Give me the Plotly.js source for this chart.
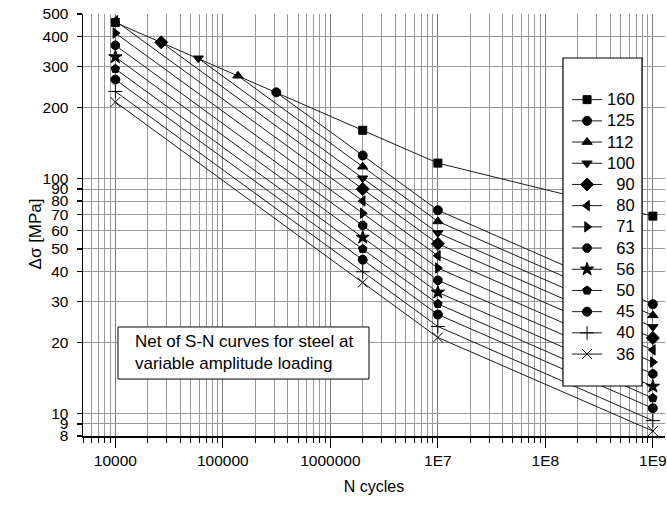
<!DOCTYPE html>
<html>
<head>
<meta charset="utf-8">
<script src="https://cdn.plot.ly/plotly-3.0.1.min.js"></script>
<style>html,body{margin:0;padding:0;background:#fff;}#chart{width:667px;height:507px;}</style>
</head>
<body>
<div id="chart"></div>
<script>
// Detail categories (Δσ_C at 2·10^6 cycles)
const detailCategories = ['160','125','112','100','90','80','71','63','56','50','45','40','36'];
// First point of each curve (cycles, stress range in MPa)
const startCycles = [1e4, 3.14e5, 1.38e5, 5.9e4, 2.67e4, 1e4, 1e4, 1e4, 1e4, 1e4, 1e4, 1e4, 1e4];
const startStress = [460, 232, 273, 324, 379, 468, 415, 368, 328, 292, 263, 234, 211];
// Common later points
const laterCycles = [2e6, 1e7, 1e9];
const stressAt2e6 = [160, 125, 112, 100, 90, 80, 71, 63, 56, 50, 45, 40, 36];
const stressAt1e7 = [116, 73.1, 65.5, 58.5, 52.6, 46.8, 41.5, 36.8, 32.7, 29.2, 26.3, 23.4, 21.0];
const stressAt1e9 = [69, 29.1, 26.1, 23.3, 20.9, 18.6, 16.5, 14.7, 13.0, 11.6, 10.5, 9.3, 8.4];

const xTickVals = [1e4, 1e5, 1e6, 1e7, 1e8, 1e9];
const xTickText = ['10000', '100000', '1000000', '1E7', '1E8', '1E9'];
const yTickVals = [8, 9, 10, 20, 30, 40, 50, 60, 70, 80, 90, 100, 200, 300, 400, 500];
const yTickText = ['8', '9', '10', '20', '30', '40', '50', '60', '70', '80', '90', '100', '200', '300', '400', '500'];
const xTitle = 'N cycles';
const yTitle = 'Δσ [MPa]';
const noteText = 'Net of S-N curves for steel at<br>variable amplitude loading';

// styles
const symbols = ['square','circle','triangle-up','triangle-down','diamond','triangle-left','triangle-right','octagon','star','pentagon','circle','cross-thin-open','x-thin-open'];
const sizes = [8, 9, 9, 9, 10, 9, 9, 9, 10, 9, 9, 10, 10];

// minor grid values
const minorVals = [];
for (let e = 3; e <= 9; e++) {
  for (let m = 1; m <= 9; m++) {
    const v = m * Math.pow(10, e);
    if (v >= 5000 && v <= 1.3e9 && xTickVals.indexOf(v) < 0) minorVals.push(v);
  }
}
const darkGridX = [1e4, 2e5, 1e6, 5e6, 4e7, 8e8];

const traces = detailCategories.map((c, i) => {
  const pad = c.length < 3 ? '\u2007' : '';
  return {
    type: 'scatter',
    mode: 'lines+markers',
    name: '<span style="font-size:16.5px">' + pad + c + '</span>',
    x: [startCycles[i]].concat(laterCycles),
    y: [startStress[i], stressAt2e6[i], stressAt1e7[i], stressAt1e9[i]],
    line: {color: '#1a1a1a', width: 1},
    marker: {symbol: symbols[i], size: sizes[i], color: '#000', line: {color: '#000', width: 1}},
    cliponaxis: false
  };
});

const shapes = darkGridX.map(v => ({
  type: 'line', xref: 'x', yref: 'paper', x0: Math.log10(v), x1: Math.log10(v), y0: 0, y1: 1,
  line: {color: '#333', width: 1.4}, layer: 'below'
}));
// legend frame
shapes.push({
  type: 'rect', xref: 'paper', yref: 'paper', x0: 0.8247, x1: 0.9605, y0: 0.1185, y1: 0.8957,
  fillcolor: '#fff', line: {color: '#000', width: 1.2}, layer: 'above'
});
// note frame
shapes.push({
  type: 'rect', xref: 'paper', yref: 'paper', x0: 0.0601, x1: 0.4914, y0: 0.135, y1: 0.2583,
  fillcolor: '#fff', line: {color: '#000', width: 1}, layer: 'above'
});

const layout = {
  width: 667, height: 507,
  margin: {l: 83, r: 2, t: 14, b: 71},
  paper_bgcolor: '#fff', plot_bgcolor: '#fff',
  font: {family: 'Liberation Sans, Arial, sans-serif', size: 14, color: '#000'},
  showlegend: true,
  legend: {
    x: 0.8317, y: 0.834, xanchor: 'left', yanchor: 'top',
    bgcolor: 'rgba(0,0,0,0)', borderwidth: 0,
    font: {size: 14, color: '#000'}, tracegroupgap: 0
  },
  xaxis: {
    type: 'log', range: [Math.log10(5000), 9.113],
    tickmode: 'array', tickvals: xTickVals, ticktext: xTickText,
    ticks: 'outside', ticklen: 10, tickcolor: '#000', tickwidth: 1.2,
    showgrid: true, gridcolor: '#7a7a7a', gridwidth: 1,
    showline: true, linecolor: '#000', linewidth: 1.5,
    zeroline: false, tickfont: {size: 15.5}, tickangle: 0,
    minor: {tickvals: minorVals, ticks: 'outside', ticklen: 5, tickcolor: '#000', tickwidth: 1,
            showgrid: true, gridcolor: '#9a9a9a', gridwidth: 1},
    title: {text: xTitle, font: {size: 16}, standoff: 12}
  },
  yaxis: {
    type: 'log', range: [Math.log10(8), Math.log10(500)],
    tickmode: 'array', tickvals: yTickVals, ticktext: yTickText,
    ticks: 'outside', ticklen: 5, tickcolor: '#000', tickwidth: 1.2,
    ticklabelstandoff: 5,
    showgrid: true, gridcolor: '#9a9a9a', gridwidth: 1,
    showline: true, linecolor: '#000', linewidth: 1.5,
    zeroline: false, tickfont: {size: 15.5}
  },
  shapes: shapes,
  annotations: [
    {
      xref: 'paper', yref: 'paper', x: 0.0859, y: 0.1967, xanchor: 'left', yanchor: 'middle',
      text: noteText, showarrow: false, align: 'left',
      font: {size: 17, color: '#000'}
    },
    {
      xref: 'paper', yref: 'paper', x: -0.0825, y: 0.48, xanchor: 'center', yanchor: 'middle',
      text: yTitle, showarrow: false, textangle: -90,
      font: {size: 17, color: '#000'}
    }
  ]
};

Plotly.newPlot('chart', traces, layout, {displayModeBar: false, staticPlot: true});
</script>
</body>
</html>
